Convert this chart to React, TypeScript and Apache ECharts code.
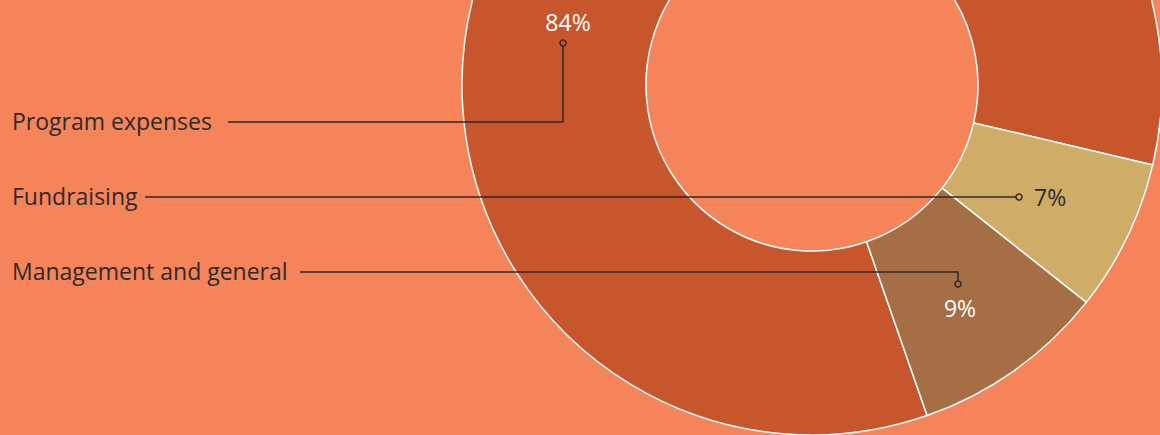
import React, { useEffect, useRef } from "react";
import * as echarts from "echarts";

const categories = ["Program expenses", "Fundraising", "Management and general"];
const values = [84, 7, 9];
const colors = ["#C8562C", "#CFAC67", "#A66E45"];

const BG = "#F5845A";
const DARK = "#2E2A28";
const FONT = "'Open Sans', 'Noto Sans', sans-serif";

export default function App() {
  const ref = useRef<HTMLDivElement>(null);
  useEffect(() => {
    document.body.style.margin = "0";
    const chart = echarts.init(ref.current!, undefined, { renderer: "svg" });
    const total = values.reduce((a, b) => a + b, 0);
    const boundaryAngle = -13.2;
    const startAngle = boundaryAngle + (values[0] / total) * 360;

    const leftText = (text: string, y: number) => ({
      type: "text",
      z: 100,
      x: 12,
      y,
      style: {
        text,
        fill: DARK,
        font: `23px ${FONT}`,
        textAlign: "left",
        textVerticalAlign: "middle",
      },
    });
    const dot = (x: number, y: number) => ({
      type: "circle",
      z: 101,
      shape: { cx: x, cy: y, r: 3 },
      style: { fill: "transparent", stroke: DARK, lineWidth: 1.5 },
    });
    const line = (pts: number[][]) => ({
      type: "polyline",
      z: 100,
      shape: { points: pts },
      style: { stroke: DARK, lineWidth: 1.5, fill: null },
    });
    const pct = (i: number, x: number, y: number, color: string, align: string) => ({
      type: "text",
      z: 100,
      x,
      y,
      style: {
        text: `${values[i]}%`,
        fill: color,
        font: `23px ${FONT}`,
        textAlign: align,
        textVerticalAlign: "middle",
      },
    });

    chart.setOption({
      animation: false,
      backgroundColor: BG,
      series: [
        {
          type: "pie",
          center: [812, 85],
          radius: [166, 350],
          startAngle,
          clockwise: true,
          label: { show: false },
          labelLine: { show: false },
          silent: true,
          itemStyle: { borderColor: "#FFFFFF", borderWidth: 1.5 },
          data: categories.map((name, i) => ({
            name,
            value: values[i],
            itemStyle: { color: colors[i] },
          })),
        },
      ],
      graphic: [
        leftText(categories[0], 121),
        leftText(categories[1], 196),
        leftText(categories[2], 271),
        line([[563, 46], [563, 122], [228, 122]]),
        dot(563, 43),
        pct(0, 568, 22, "#FFFFFF", "center"),
        line([[1016, 197], [145, 197]]),
        dot(1019, 197),
        pct(1, 1034, 197, DARK, "left"),
        line([[958, 281], [958, 272], [300, 272]]),
        dot(958, 284),
        pct(2, 960, 308, "#FFFFFF", "center"),
      ],
    });
    return () => chart.dispose();
  }, []);
  return (
    <div
      ref={ref}
      style={{ position: "absolute", left: 0, top: 0, width: 1160, height: 435 }}
    />
  );
}
